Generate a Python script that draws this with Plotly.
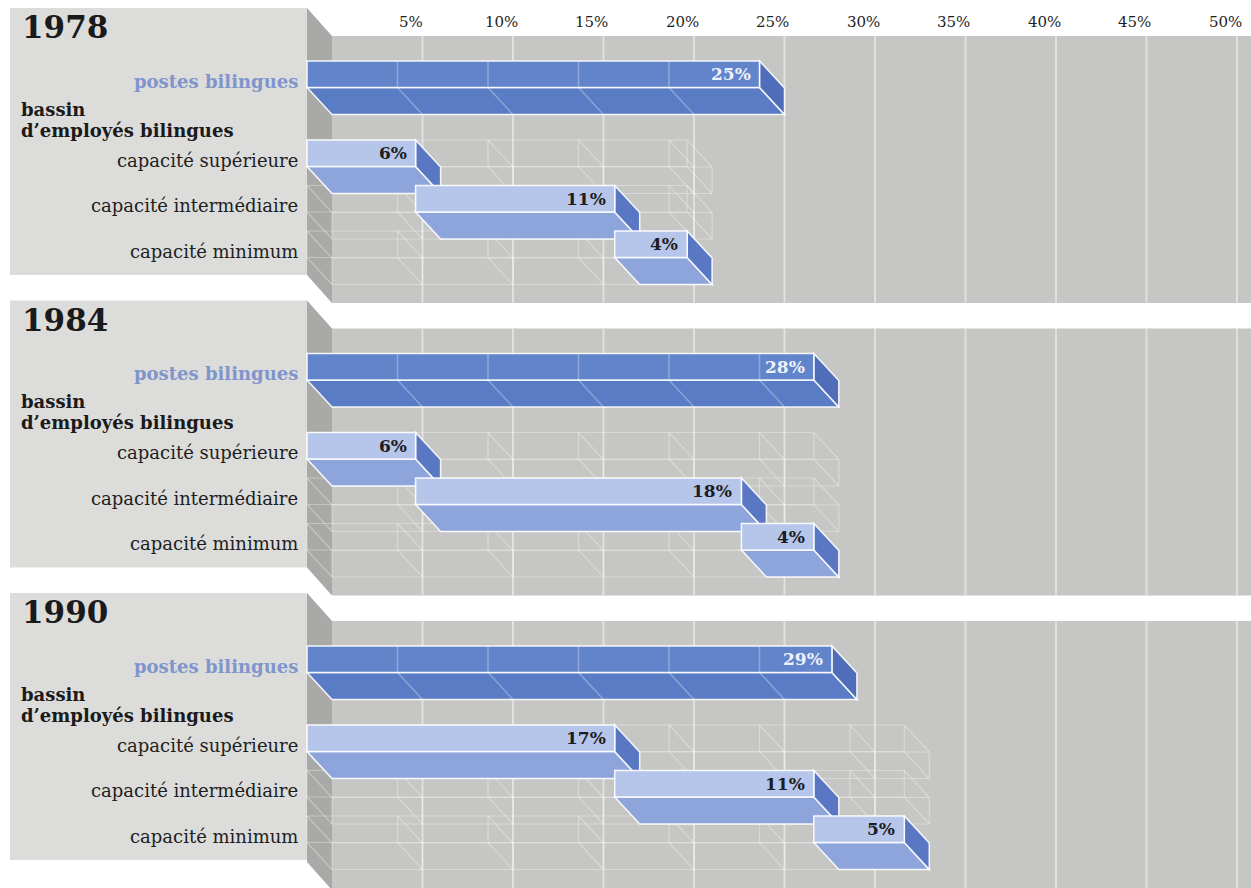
import plotly.graph_objects as go

# ---- data -------------------------------------------------------------
years = ["1978", "1984", "1990"]
postes_bilingues = [25, 28, 29]
capacite_superieure = [6, 6, 17]
capacite_intermediaire = [11, 18, 11]
capacite_minimum = [4, 4, 5]
capacity_labels = ["capacité supérieure", "capacité intermédiaire", "capacité minimum"]
tick_values = [5, 10, 15, 20, 25, 30, 35, 40, 45, 50]
tick_labels = ["5%", "10%", "15%", "20%", "25%", "30%", "35%", "40%", "45%", "50%"]

# ---- geometry (x in percent, y in page pixels) -------------------------
W, H = 1251, 888
PX_PER_PCT = 18.1
ORIGIN_PX = 307


def px(p):
    """Page pixel -> percent coordinate on the x axis."""
    return (p - ORIGIN_PX) / PX_PER_PCT


DX = 25 / PX_PER_PCT   # depth offset along x (percent units)
DY = 27                # depth offset along y (pixels)
FACE = 26.5            # height of a bar's front face
PANEL = 292.5          # vertical step between year panels
ROW_POSTES = 61
ROW_CAP = [140, 185.5, 231]

SERIF = "DejaVu Serif"

shapes = []
annotations = []


def path(pts):
    return "M " + " L ".join(f"{x:.4f},{y:.2f}" for x, y in pts) + " Z"


def poly(pts, fill, line="rgba(255,255,255,0.9)", width=1.5):
    shapes.append(dict(type="path", path=path(pts), fillcolor=fill,
                       line=dict(color=line, width=width), layer="above",
                       xref="x", yref="y"))


def seg(x0, y0, x1, y1, color, width):
    shapes.append(dict(type="line", x0=x0, y0=y0, x1=x1, y1=y1,
                       line=dict(color=color, width=width), layer="above",
                       xref="x", yref="y"))


def bar3d(v0, v1, top, front, bottom, side):
    mid = top + FACE
    poly([(v0, mid), (v1, mid), (v1 + DX, mid + DY), (v0 + DX, mid + DY)], bottom)
    poly([(v1, top), (v1 + DX, top + DY), (v1 + DX, mid + DY), (v1, mid)], side)
    poly([(v0, top), (v1, top), (v1, mid), (v0, mid)], front)


def wireframe(total, top, color="rgba(255,255,255,0.32)", width=1.2):
    mid = top + FACE
    for y in (top, mid):
        seg(0, y, total, y, color, width)
        seg(DX, y + DY, total + DX, y + DY, color, width)
    for v in [0] + [t for t in tick_values if t < total] + [total]:
        seg(v, top, v, mid, color, width)
        seg(v + DX, top + DY, v + DX, mid + DY, color, width)
        seg(v, top, v + DX, top + DY, color, width)
        seg(v, mid, v + DX, mid + DY, color, width)


POSTES_COLORS = ("#6184cb", "#5a7cc4", "#4f6db9")
CAP_COLORS = ("#b6c5ea", "#8ea5dc", "#5a77c4")

for i, year in enumerate(years):
    o = i * PANEL
    wall_bottom = 303 + o if i < len(years) - 1 else H + 2

    # label box, wall and its slanted left edge
    poly([(px(10), 8 + o), (0, 8 + o), (0, 275 + o), (px(10), 275 + o)], "#dcdcda", width=0)
    poly([(DX, 36 + o), (px(W + 2), 36 + o), (px(W + 2), wall_bottom), (DX, wall_bottom)],
         "#c6c6c4", width=0)
    poly([(0, 8 + o), (DX, 36 + o), (DX, wall_bottom), (0, wall_bottom - 28)], "#a9a9a7", width=0)

    # wall gridlines
    for v in tick_values:
        seg(v + DX, 36 + o, v + DX, wall_bottom, "rgba(255,255,255,0.45)", 2)

    # ghost frames of the bilingual pool rows
    total = capacite_superieure[i] + capacite_intermediaire[i] + capacite_minimum[i]
    for r in ROW_CAP:
        wireframe(total, r + o)

    # bilingual positions bar
    top = ROW_POSTES + o
    bar3d(0, postes_bilingues[i], top, *POSTES_COLORS)
    for v in tick_values:
        if v < postes_bilingues[i]:
            seg(v, top, v, top + FACE, "rgba(255,255,255,0.3)", 1.5)
            seg(v, top + FACE, v + DX, top + FACE + DY, "rgba(255,255,255,0.3)", 1.5)
    annotations.append(dict(x=postes_bilingues[i] - 7 / PX_PER_PCT, y=top + FACE / 2,
                            text=f"{postes_bilingues[i]}%", xanchor="right", yanchor="middle",
                            showarrow=False,
                            font=dict(family=SERIF, size=17, color="#eef1fa", weight="bold")))

    # bilingual employee pool, stacked by capacity level
    parts = [capacite_superieure[i], capacite_intermediaire[i], capacite_minimum[i]]
    start = 0
    for r, val in zip(ROW_CAP, parts):
        bar3d(start, start + val, r + o, *CAP_COLORS)
        annotations.append(dict(x=start + val - 7 / PX_PER_PCT, y=r + o + FACE / 2,
                                text=f"{val}%", xanchor="right", yanchor="middle",
                                showarrow=False,
                                font=dict(family=SERIF, size=17, color="#1c1c22", weight="bold")))
        start += val

    # left-hand text
    annotations.append(dict(x=px(20), y=27 + o, text=year, xanchor="left", yanchor="middle",
                            showarrow=False,
                            font=dict(family=SERIF, size=31, color="#1a1a1a", weight="bold")))
    annotations.append(dict(x=px(300), y=81 + o, text="postes bilingues", xanchor="right",
                            yanchor="middle", showarrow=False,
                            font=dict(family=SERIF, size=18, color="#7f95cc", weight="bold")))
    annotations.append(dict(x=px(19), y=109 + o, text="bassin", xanchor="left",
                            yanchor="middle", showarrow=False,
                            font=dict(family=SERIF, size=18, color="#1a1a1a", weight="bold")))
    annotations.append(dict(x=px(19), y=130 + o, text="d’employés bilingues", xanchor="left",
                            yanchor="middle", showarrow=False,
                            font=dict(family=SERIF, size=18, color="#1a1a1a", weight="bold")))
    for r, lab in zip(ROW_CAP, capacity_labels):
        annotations.append(dict(x=px(300), y=r + o + 20, text=lab, xanchor="right",
                                yanchor="middle", showarrow=False,
                                font=dict(family=SERIF, size=18, color="#1e1e1e")))

# percentage scale along the top
for v, lab in zip(tick_values, tick_labels):
    annotations.append(dict(x=v + DX - 12 / PX_PER_PCT, y=22, text=lab, xanchor="center",
                            yanchor="middle", showarrow=False,
                            font=dict(family=SERIF, size=15, color="#1e1e1e")))

fig = go.Figure(go.Scatter(x=[None], y=[None], showlegend=False, hoverinfo="skip"))
fig.update_layout(
    width=W, height=H, autosize=False,
    margin=dict(l=0, r=0, t=0, b=0),
    paper_bgcolor="white", plot_bgcolor="white",
    xaxis=dict(range=[px(0), px(W)], visible=False, fixedrange=True),
    yaxis=dict(range=[H, 0], visible=False, fixedrange=True),
    shapes=shapes, annotations=annotations, showlegend=False,
)
fig.write_html("out.html")
